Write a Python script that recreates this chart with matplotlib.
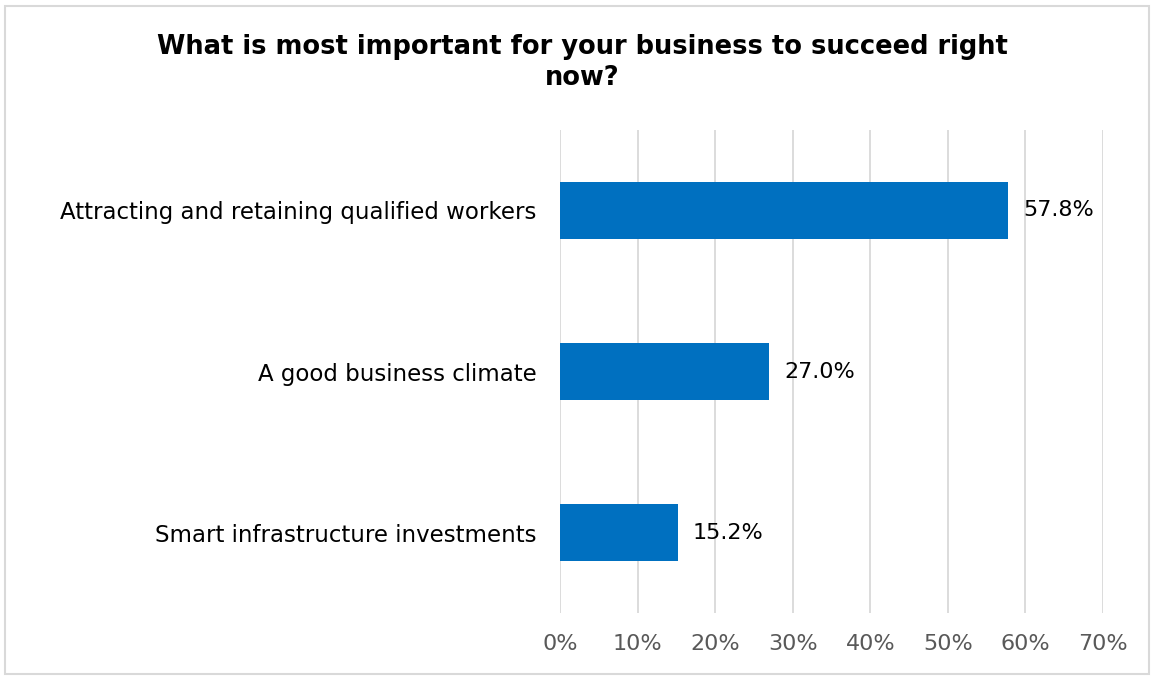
import matplotlib.pyplot as plt
from matplotlib.patches import Rectangle

# survey answers, top to bottom
categories = ['Attracting and retaining qualified workers',
              'A good business climate',
              'Smart infrastructure investments']
shares = [57.8, 27.0, 15.2]
ticks = [0, 10, 20, 30, 40, 50, 60, 70]
tick_labels = ['%d%%' % t for t in ticks]

plt.rcParams['font.family'] = ['DejaVu Sans']

fig = plt.figure(figsize=(11.53, 6.77), dpi=100)
ax = fig.add_axes([0.4857, 0.0945, 0.4709, 0.7135])

ypos = list(range(len(categories)))
ax.barh(ypos, shares, height=0.35, color='#0070C0', zorder=3)
for y, v in zip(ypos, shares):
    ax.text(v + 1.9, y, '%.1f%%' % v, va='center', ha='left', fontsize=16, color='#000000')

ax.set_xlim(0, 70)
ax.set_ylim(2.5, -0.5)
ax.set_xticks(ticks)
ax.set_xticklabels(tick_labels, fontsize=16, color='#595959')
ax.set_yticks(ypos)
ax.set_yticklabels(categories, fontsize=16.5, color='#000000')
ax.tick_params(axis='both', length=0)
ax.tick_params(axis='x', pad=15)
ax.tick_params(axis='y', pad=17)
ax.grid(axis='x', color='#D9D9D9', linewidth=1.3, zorder=0)
for s in ax.spines.values():
    s.set_visible(False)

fig.text(0.505, 0.907, 'What is most important for your business to succeed right\nnow?',
         ha='center', va='center', fontsize=18.5, fontweight='bold', linespacing=1.25)

# light frame around the whole chart
fig.patches.append(Rectangle((5 / 1153, 3 / 677), 1144 / 1153, 668 / 677,
                             transform=fig.transFigure, fill=False,
                             edgecolor='#D9D9D9', linewidth=1.5))

fig.savefig('out.png', dpi=100, facecolor='white')
